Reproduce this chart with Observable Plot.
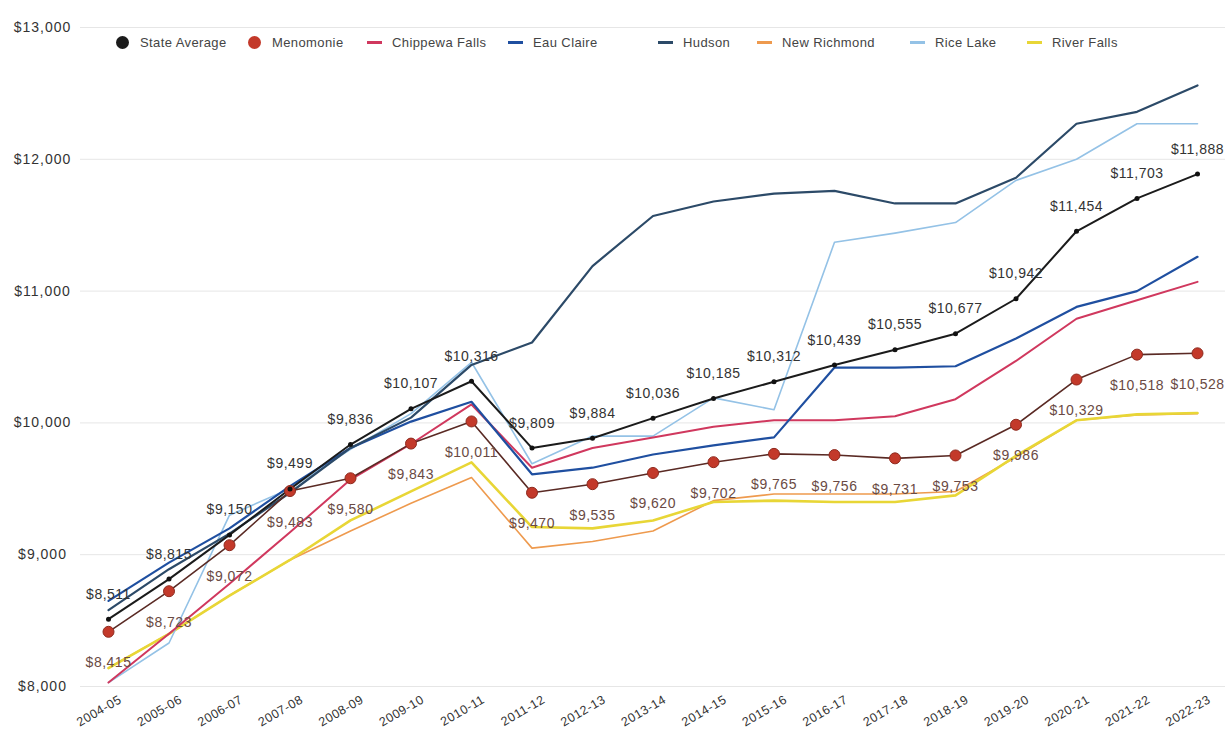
<!DOCTYPE html>
<html><head><meta charset="utf-8">
<script src="https://cdn.jsdelivr.net/npm/d3@7"></script>
<script src="https://cdn.jsdelivr.net/npm/@observablehq/plot@0.6"></script>
<style>
body{margin:0;background:#fff;}
#wrap{position:relative;width:1228px;height:739px;overflow:hidden;}
#legend{position:absolute;top:0;left:0;width:1228px;height:60px;font-family:"Liberation Sans",Arial,sans-serif;font-size:13px;color:#444;letter-spacing:0.4px;}
.item{position:absolute;top:34px;display:flex;align-items:center;height:16px;white-space:nowrap;}
.mk-dot{width:13px;height:13px;border-radius:50%;margin-right:11px;flex:none;}
.mk-dash{width:15px;height:3px;margin-right:10px;flex:none;}
</style></head>
<body>
<div id="wrap"><div id="chart"></div><div id="legend"></div></div>
<script>
// ---- data ----
const years = ["2004-05","2005-06","2006-07","2007-08","2008-09","2009-10","2010-11","2011-12","2012-13","2013-14","2014-15","2015-16","2016-17","2017-18","2018-19","2019-20","2020-21","2021-22","2022-23"];
const stateAverage  = [8511,8815,9150,9499,9836,10107,10316,9809,9884,10036,10185,10312,10439,10555,10677,10942,11454,11703,11888];
const menomonie     = [8415,8723,9072,9483,9580,9843,10011,9470,9535,9620,9702,9765,9756,9731,9753,9986,10329,10518,10528];
const chippewaFalls = [8030,8400,8780,9170,9570,9840,10140,9660,9810,9890,9970,10020,10020,10050,10180,10470,10790,10930,11070];
const eauClaire     = [8650,8940,9200,9520,9810,10010,10160,9610,9660,9760,9830,9890,10420,10420,10430,10640,10880,11000,11260];
const hudson        = [8580,8890,9160,9470,9810,10040,10440,10610,11190,11570,11680,11740,11760,11665,11665,11860,12270,12360,12560];
const newRichmond   = [8140,8400,8690,8960,9180,9390,9585,9050,9100,9180,9410,9460,9460,9460,9480,9740,10020,10060,10070];
const riceLake      = [8030,8330,9300,9500,9800,10070,10460,9690,9900,9900,10190,10100,11370,11440,11520,11840,12000,12270,12270];
const riverFalls    = [8140,8400,8690,8960,9260,9480,9700,9210,9200,9260,9400,9410,9400,9400,9450,9750,10020,10065,10075];
const seriesNames = ["State Average","Menomonie","Chippewa Falls","Eau Claire","Hudson","New Richmond","Rice Lake","River Falls"];
const seriesValues = [stateAverage,menomonie,chippewaFalls,eauClaire,hudson,newRichmond,riceLake,riverFalls];
const yTicks = [8000,9000,10000,11000,12000,13000];

// ---- styles ----
const legendColors = ["#1b1b1b","#c3392a","#d0385e","#1f4fa0","#2c4a68","#ee9a4e","#94c2e6","#e8d636"];
const legendKinds  = ["dot","dot","dash","dash","dash","dash","dash","dash"];
const legendLeft   = [116,248,367,508,658,757,910,1027];
const lineStroke = {"State Average":"#1b1b1b","Menomonie":"#5a2a24","Chippewa Falls":"#d0385e","Eau Claire":"#1f4fa0","Hudson":"#2c4a68","New Richmond":"#ee9a4e","Rice Lake":"#94c2e6","River Falls":"#e8d636"};
const lineWidth  = {"State Average":2,"Menomonie":1.6,"Chippewa Falls":2,"Eau Claire":2.2,"Hudson":2.2,"New Richmond":1.6,"Rice Lake":1.6,"River Falls":2.6};
const drawOrder = ["New Richmond","River Falls","Rice Lake","Chippewa Falls","Eau Claire","Hudson","Menomonie","State Average"];

const rows = seriesNames.flatMap((s,i) => years.map((y,j) => ({series:s, year:y, value:seriesValues[i][j]})));
const fmt = d => "$" + d3.format(",")(d);
const stateRows = rows.filter(r => r.series === "State Average");
const menRows = rows.filter(r => r.series === "Menomonie");

const chart = Plot.plot({
  width:1228, height:739, marginTop:27, marginBottom:53, marginLeft:80, marginRight:3,
  style:{fontFamily:"'Liberation Sans', Arial, sans-serif", background:"#fff", overflow:"visible"},
  x:{type:"point", domain:years, range:[108,1197], padding:0, round:false, label:null},
  y:{domain:[8000,13000], label:null},
  marks:[
    Plot.ruleY(yTicks, {stroke:"#e6e6e6", strokeWidth:1}),
    Plot.axisY(yTicks, {tickSize:0, tickPadding:38, textAnchor:"middle", tickFormat:fmt, fontSize:14, fill:"#333", label:null}),
    Plot.axisX({tickSize:0, tickRotate:-30, tickPadding:12, dx:12, fontSize:12.5, fill:"#333", label:null}),
    ...drawOrder.map(s => Plot.line(rows.filter(r => r.series === s), {x:"year", y:"value", stroke:lineStroke[s], strokeWidth:lineWidth[s]})),
    Plot.dot(menRows, {x:"year", y:"value", r:5.5, fill:"#c3392a", stroke:"#8e2a1e", strokeWidth:1}),
    Plot.dot(stateRows, {x:"year", y:"value", r:2.5, fill:"#111"}),
    Plot.text(stateRows, {x:"year", y:"value", text:d => fmt(d.value), dy:-25, fontSize:14, fill:"#333"}),
    Plot.text(menRows, {x:"year", y:"value", text:d => fmt(d.value), dy:31, fontSize:14, fill:"#6a4a44"})
  ]
});
document.getElementById("chart").appendChild(chart);
d3.select(chart).selectAll("text").style("letter-spacing","0.5px");
d3.select(chart).selectAll('g[aria-label="y-axis tick label"] text').style("letter-spacing","1px");

const legend = d3.select("#legend");
seriesNames.forEach((s,i) => {
  const it = legend.append("div").attr("class","item").style("left", legendLeft[i] + "px");
  it.append("span").attr("class", legendKinds[i] === "dot" ? "mk-dot" : "mk-dash").style("background", legendColors[i]);
  it.append("span").text(s);
});
</script>
</body></html>
